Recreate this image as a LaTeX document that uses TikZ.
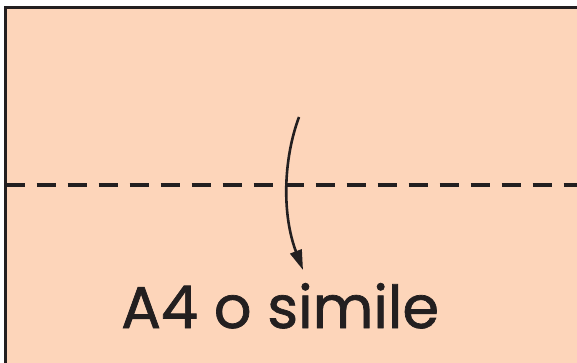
\documentclass[tikz,border=0pt]{standalone}
\usepackage{fontspec}
\setmainfont{Poppins}
\newfontfamily\labelfont{Poppins}[FakeBold=1.2]
\usetikzlibrary{arrows.meta}
\definecolor{paper}{RGB}{253,213,186}
\definecolor{ink}{RGB}{35,31,32}
\tikzset{
  sheet/.style={draw=ink, line width=3pt, fill=paper},
  foldline/.style={draw=ink, line width=3.6pt, dash pattern=on 19pt off 12pt},
  foldarrow/.style={draw=ink, line width=2.6pt, -{Triangle[length=20pt,width=12pt]}},
  label/.style={text=ink, font=\labelfont\fontsize{59}{61}\selectfont, anchor=base west, inner sep=0pt}
}
\begin{document}
\begin{tikzpicture}[x=1pt,y=-1pt]
\useasboundingbox (0,0) rectangle (577,363);
\path[sheet] (5.5,7.5) rectangle (590,375);
\coordinate (fl) at (5.5,185);
\coordinate (fr) at (590,185);
\draw[foldline] (fl) -- (fr);
\coordinate (as) at (299,117);
\coordinate (ae) at (303,270);
\draw[foldarrow] (as) .. controls (283,160) and (282,215) .. (ae);
\node[label] (t) at (121,328) {A4 o simile};
\end{tikzpicture}
\end{document}
